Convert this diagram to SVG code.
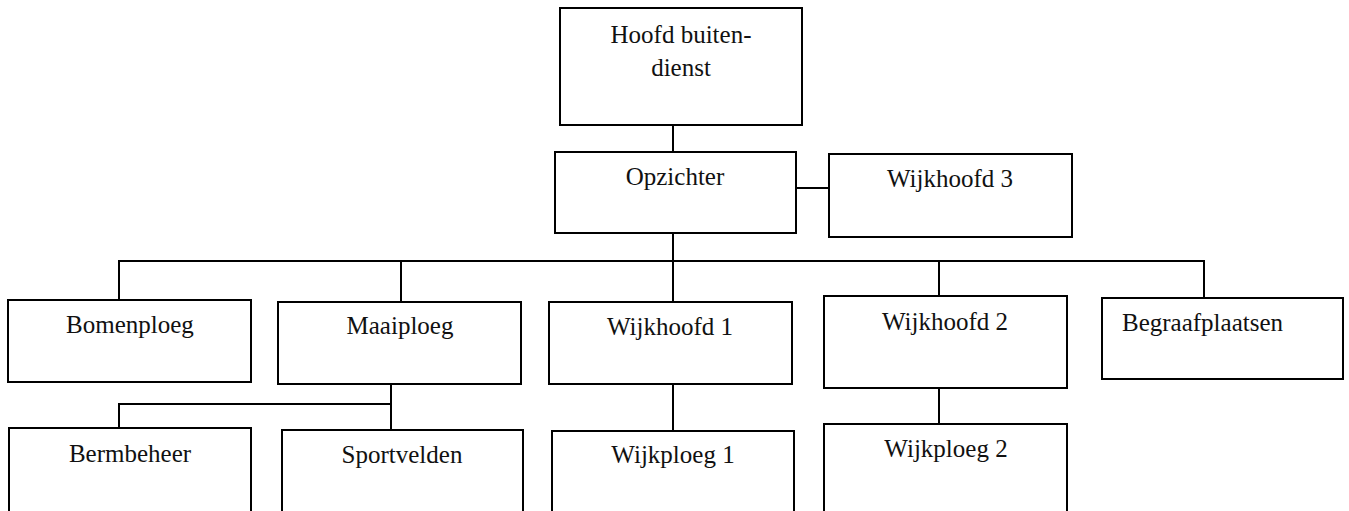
<svg xmlns="http://www.w3.org/2000/svg" width="1349" height="511" viewBox="0 0 1349 511">
<style>
.box{fill:#fff;stroke:#000;stroke-width:2}
.lbl{font-family:"Liberation Serif","Times New Roman",serif;font-size:25px;fill:#111;text-anchor:middle}
.conn line{stroke:#000;stroke-width:2}
</style>
<rect width="1349" height="511" fill="#fff"/>
<g class="conn" id="connectors">
<line x1="673" y1="125" x2="673" y2="152"/>
<line x1="796" y1="188" x2="829" y2="188"/>
<line x1="673" y1="233" x2="673" y2="261"/>
<line x1="118" y1="261" x2="1205" y2="261"/>
<line x1="119" y1="261" x2="119" y2="300"/>
<line x1="401" y1="261" x2="401" y2="302"/>
<line x1="673" y1="261" x2="673" y2="302"/>
<line x1="939" y1="261" x2="939" y2="296"/>
<line x1="1204" y1="261" x2="1204" y2="298"/>
<line x1="391" y1="384" x2="391" y2="430"/>
<line x1="118" y1="404" x2="391" y2="404"/>
<line x1="119" y1="404" x2="119" y2="428"/>
<line x1="673" y1="384" x2="673" y2="431"/>
<line x1="939" y1="388" x2="939" y2="424"/>
</g>
<g id="hoofd"><rect class="box" x="560" y="8" width="242" height="117"/><text class="lbl" x="681" y="43">Hoofd buiten-</text><text class="lbl" x="681" y="76">dienst</text></g>
<g id="opzichter"><rect class="box" x="555" y="152" width="241" height="81"/><text class="lbl" x="675" y="185">Opzichter</text></g>
<g id="wijkhoofd3"><rect class="box" x="829" y="154" width="243" height="83"/><text class="lbl" x="950" y="187">Wijkhoofd 3</text></g>
<g id="bomenploeg"><rect class="box" x="8" y="300" width="243" height="82"/><text class="lbl" x="130" y="333">Bomenploeg</text></g>
<g id="maaiploeg"><rect class="box" x="278" y="302" width="243" height="82"/><text class="lbl" x="400" y="334">Maaiploeg</text></g>
<g id="wijkhoofd1"><rect class="box" x="549" y="302" width="243" height="82"/><text class="lbl" x="670" y="335">Wijkhoofd 1</text></g>
<g id="wijkhoofd2"><rect class="box" x="824" y="296" width="243" height="92"/><text class="lbl" x="945" y="330">Wijkhoofd 2</text></g>
<g id="begraafplaatsen"><rect class="box" x="1102" y="298" width="241" height="81"/><text class="lbl" x="1122" y="331" style="text-anchor:start">Begraafplaatsen</text></g>
<g id="bermbeheer"><rect class="box" x="9" y="428" width="242" height="100"/><text class="lbl" x="130" y="462">Bermbeheer</text></g>
<g id="sportvelden"><rect class="box" x="282" y="430" width="241" height="100"/><text class="lbl" x="402" y="463">Sportvelden</text></g>
<g id="wijkploeg1"><rect class="box" x="552" y="431" width="242" height="100"/><text class="lbl" x="673" y="463">Wijkploeg 1</text></g>
<g id="wijkploeg2"><rect class="box" x="824" y="424" width="243" height="100"/><text class="lbl" x="946" y="457">Wijkploeg 2</text></g>
</svg>
